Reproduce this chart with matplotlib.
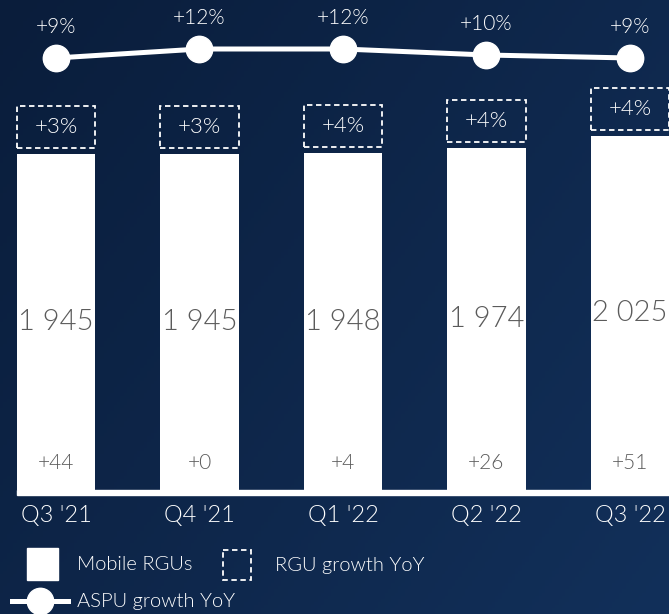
import numpy as np
import matplotlib
matplotlib.use("Agg")
import matplotlib.pyplot as plt
from matplotlib.patches import Rectangle
from matplotlib.lines import Line2D
from matplotlib.transforms import blended_transform_factory
from matplotlib.colors import LinearSegmentedColormap

plt.rcParams['font.family'] = ['Lato', 'DejaVu Sans']
plt.rcParams['font.weight'] = 300

# Quarterly data
quarters = ["Q3 '21", "Q4 '21", "Q1 '22", "Q2 '22", "Q3 '22"]
mobile_rgus = [1945, 1945, 1948, 1974, 2025]
rgu_change = ["+44", "+0", "+4", "+26", "+51"]
rgu_growth = ["+3%", "+3%", "+4%", "+4%", "+4%"]
aspu_growth = [9, 12, 12, 10, 9]

W, H = 669, 614
BASE_PX = 490          # baseline of the bars, pixels from top
BAR_W = 0.544
TEXT_GREY = '#5b5b5b'

fig = plt.figure(figsize=(W / 100, H / 100), dpi=100)

# navy gradient background
bg = fig.add_axes([0, 0, 1, 1])
gx, gy = np.meshgrid(np.linspace(0, 1, 200), np.linspace(0, 1, 200))
grad = 0.6 * gx + 0.4 * gy
cmap = LinearSegmentedColormap.from_list('navy', ['#0a1d3b', '#12305a'])
bg.imshow(grad, cmap=cmap, aspect='auto', extent=[0, 1, 0, 1], origin='upper')
bg.set_axis_off()

x = np.arange(len(quarters))
xlim = (-56 / 143.5, (W - 56) / 143.5)

# bars
ax = fig.add_axes([0, (H - BASE_PX) / H, 1, BASE_PX / H])
ax.patch.set_alpha(0)
ymin = 452
px = 1 / 0.225           # data units per pixel
ymax = ymin + BASE_PX * px
ax.set_xlim(*xlim)
ax.set_ylim(ymin, ymax)
ax.bar(x, mobile_rgus, width=BAR_W, color='white', zorder=2)
for s in ax.spines.values():
    s.set_visible(False)
ax.set_yticks([])
ax.set_xticks(x)
ax.set_xticklabels(quarters, color='white', fontsize=17)
ax.tick_params(axis='x', length=0, pad=11)

# white baseline under the bars
trans = blended_transform_factory(ax.transData, ax.transAxes)
ax.add_patch(Rectangle((x[0] - BAR_W / 2, 0), xlim[1] - x[0] + BAR_W / 2, -5 / BASE_PX,
                       transform=trans, color='white', clip_on=False, zorder=2))

for i, v in enumerate(mobile_rgus):
    ax.text(i, (ymin + v) / 2, f"{v:,}".replace(",", " "), ha='center', va='center',
            fontsize=21, color=TEXT_GREY, zorder=3)
    ax.annotate(rgu_change[i], xy=(i, 0), xycoords=trans, xytext=(0, 27),
                textcoords='offset pixels', ha='center', va='center',
                fontsize=15, color=TEXT_GREY, zorder=3)
    # dashed growth box above each bar
    b0 = v + 6 * px
    bh = 42 * px
    ax.add_patch(Rectangle((i - BAR_W / 2, b0), BAR_W, bh, fill=False, edgecolor='white',
                           linestyle=(0, (3, 2)), linewidth=1.3, zorder=3, clip_on=False))
    ax.text(i, b0 + bh / 2, rgu_growth[i], ha='center', va='center', fontsize=16,
            color='white', zorder=4)

# ASPU growth line
ax2 = fig.add_axes([0, 0, 1, 1])
ax2.patch.set_alpha(0)
ax2.set_xlim(*xlim)
ax2.set_ylim(9 - (H - 58) / 3, 9 + 58 / 3)
ax2.set_axis_off()
ax2.plot(x, aspu_growth, color='white', lw=3.6, marker='o', markersize=19, zorder=5)
for i, v in enumerate(aspu_growth):
    ax2.annotate(f"+{v}%", xy=(i, v), xytext=(0, 31), textcoords='offset pixels',
                 ha='center', va='center', fontsize=15, color='white')

# legend, drawn in pixel coordinates
lg = fig.add_axes([0, 0, 1, 1])
lg.patch.set_alpha(0)
lg.set_xlim(0, W)
lg.set_ylim(H, 0)
lg.set_axis_off()
lg.add_patch(Rectangle((27, 548), 31, 32, color='white'))
lg.text(77, 565, "Mobile RGUs", color='white', fontsize=14.5, va='center')
lg.add_patch(Rectangle((223, 550), 28, 30, fill=False, edgecolor='white',
                       linestyle=(0, (3, 2)), linewidth=1.3))
lg.text(275, 565, "RGU growth YoY", color='white', fontsize=14.5, va='center')
lg.add_line(Line2D([12, 68], [601, 601], color='white', lw=3.6))
lg.plot([40], [601], 'o', color='white', markersize=19)
lg.text(77, 601, "ASPU growth YoY", color='white', fontsize=14.5, va='center')

fig.savefig('out.png', dpi=100)
